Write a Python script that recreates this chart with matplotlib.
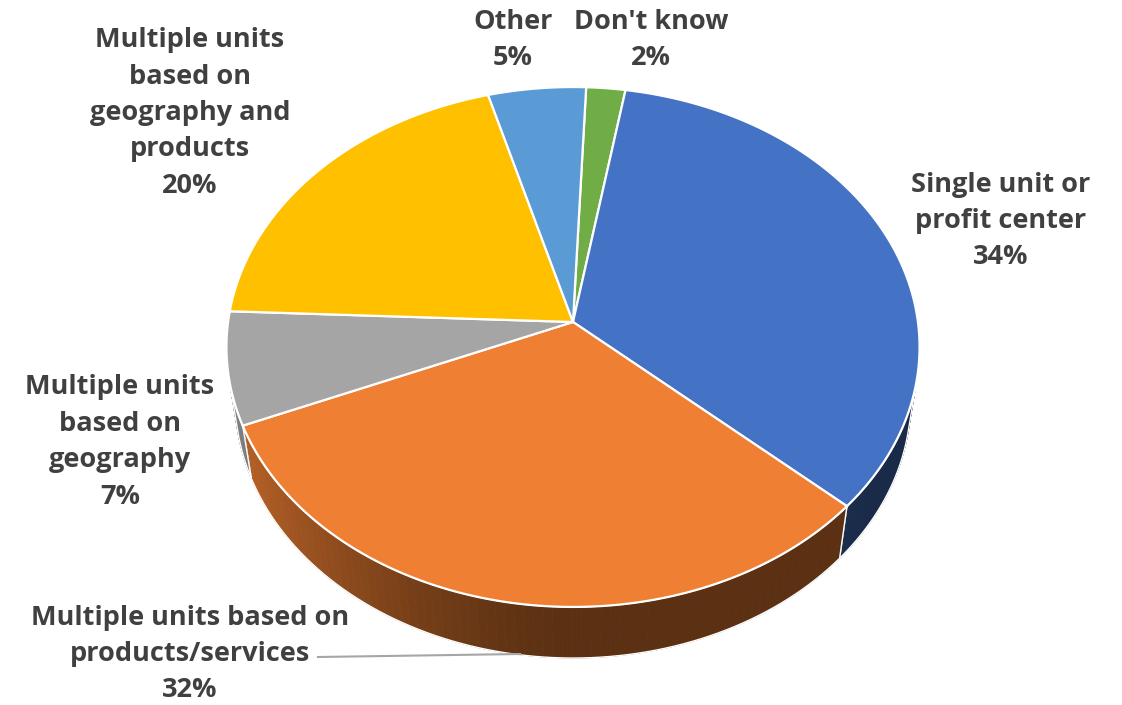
import numpy as np
import matplotlib
matplotlib.use("Agg")
import matplotlib.pyplot as plt
from matplotlib.patches import Polygon

# Survey answers, clockwise from the top of the pie
labels = ["Don't know", "Single unit or\nprofit center", "Multiple units based on\nproducts/services",
          "Multiple units\nbased on\ngeography", "Multiple units\nbased on\ngeography and\nproducts", "Other"]
shares = [2, 34, 32, 7, 20, 5]
colors = ["#70AD47", "#4472C4", "#EF7F32", "#A5A5A5", "#FFC000", "#5B9BD5"]

# where each label sits (pixel coords, centre of text block)
label_pos = [(651, 40), (1001, 221), (190, 654), (120, 442), (190, 113), (513, 40)]

start_deg = 2.4  # first slice edge, degrees clockwise from 12 o'clock

# perspective camera for the tilted pie
cx, cy = 573, 322
elev = np.deg2rad(48.3)
d0 = 6.92
F = 2387.0
thick = 0.239


def project(theta, z=0.0, r=1.0):
    X = r * np.sin(theta)
    Y = r * np.cos(theta)
    depth = Y * np.cos(elev) - z * np.sin(elev) + d0
    sy = Y * np.sin(elev) + z * np.cos(elev)
    return cx + F * X / depth, cy - F * sy / depth


def shade(hexcol, k):
    rgb = np.array(matplotlib.colors.to_rgb(hexcol))
    return tuple(np.clip(rgb * k, 0, 1))


fig = plt.figure(figsize=(11.22, 7.05), dpi=100)
ax = fig.add_axes([0, 0, 1, 1])
ax.set_xlim(0, 1122)
ax.set_ylim(705, 0)
ax.axis("off")

bounds = start_deg + 3.6 * np.concatenate([[0], np.cumsum(shares)])
vis_lo, vis_hi = 102.6, 257.4  # part of the rim facing the camera

# side walls
for i, col in enumerate(colors):
    a0, a1 = max(bounds[i], vis_lo), min(bounds[i + 1], vis_hi)
    if a1 <= a0:
        continue
    th = np.deg2rad(np.linspace(a0, a1, 80))
    for t0, t1 in zip(th[:-1], th[1:]):
        tm = 0.5 * (t0 + t1)
        k = 0.38 + 0.42 * max(0.0, -np.sin(tm)) ** 1.5
        pts = [project(t0), project(t1), project(t1, -thick), project(t0, -thick)]
        ax.add_patch(Polygon(pts, closed=True, facecolor=shade(col, k),
                             edgecolor=shade(col, k), lw=0.6))
    top = [project(t) for t in th]
    bot = [project(t, -thick) for t in th[::-1]]
    ax.add_patch(Polygon(top + bot, closed=True, fill=False, edgecolor="white", lw=1.0))

# top faces
for i, col in enumerate(colors):
    th = np.deg2rad(np.linspace(bounds[i], bounds[i + 1], 120))
    pts = [(cx, cy)] + [project(t) for t in th]
    ax.add_patch(Polygon(pts, closed=True, facecolor=col, edgecolor="white", lw=1.6))

# leader line for the products/services label
ax.plot([318, 520], [657, 654], color="#A6A6A6", lw=1.5, zorder=1)

for (x, y), lab, v in zip(label_pos, labels, shares):
    ax.text(x, y, f"{lab}\n{v}%", ha="center", va="center", fontsize=19.5,
            fontweight="bold", color="#404040", family=["Open Sans", "DejaVu Sans"],
            linespacing=1.52)

fig.savefig("out.png", dpi=100)
